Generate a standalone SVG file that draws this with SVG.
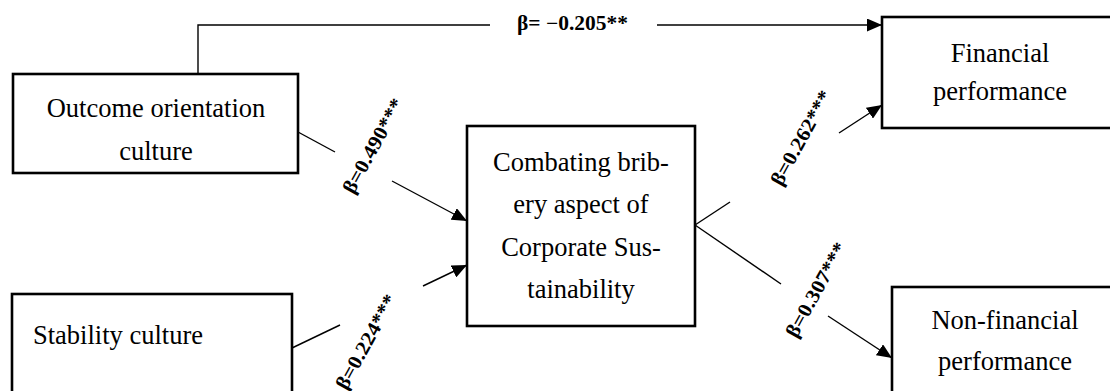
<svg xmlns="http://www.w3.org/2000/svg" width="1110" height="391" viewBox="0 0 1110 391">
<defs>
<style>
.box{fill:#fff;stroke:#000;stroke-width:2.6}
.t{font-family:"Liberation Serif","Times New Roman",serif;font-size:26.5px;fill:#000}
.c{text-anchor:middle}
.lbl{font-family:"Liberation Serif","Times New Roman",serif;font-size:20px;font-weight:bold;fill:#000;text-anchor:middle}
.ln{fill:none;stroke:#000;stroke-width:1.4}
</style>
<marker id="ah" markerUnits="userSpaceOnUse" markerWidth="15" markerHeight="13" refX="15" refY="6.5" orient="auto">
<path d="M0,0 L15,6.5 L0,13 z" fill="#000"/>
</marker>
</defs>
<rect width="1110" height="391" fill="#fff"/>
<g id="connectors">
<polyline class="ln" points="198,73 198,25 490,25"/>
<line class="ln" x1="657" y1="25" x2="882" y2="25" marker-end="url(#ah)"/>
<line class="ln" x1="298" y1="132" x2="335" y2="152"/>
<line class="ln" x1="392" y1="181" x2="467" y2="221" marker-end="url(#ah)"/>
<line class="ln" x1="292" y1="348" x2="340" y2="325"/>
<line class="ln" x1="423" y1="286" x2="467" y2="265" marker-end="url(#ah)"/>
<line class="ln" x1="695" y1="225" x2="730" y2="202"/>
<line class="ln" x1="839" y1="133" x2="882" y2="105" marker-end="url(#ah)"/>
<line class="ln" x1="695" y1="225" x2="781" y2="284"/>
<line class="ln" x1="828" y1="316" x2="892" y2="358" marker-end="url(#ah)"/>
<text class="lbl" x="572.5" y="30" textLength="111" lengthAdjust="spacingAndGlyphs">β= −0.205**</text>
<text class="lbl" transform="translate(379,149) rotate(-61)" textLength="105" lengthAdjust="spacingAndGlyphs">β=0.490***</text>
<text class="lbl" transform="translate(372,345) rotate(-61)" textLength="105" lengthAdjust="spacingAndGlyphs">β=0.224***</text>
<text class="lbl" transform="translate(807,141) rotate(-61)" textLength="105" lengthAdjust="spacingAndGlyphs">β=0.262***</text>
<text class="lbl" transform="translate(822,293) rotate(-61)" textLength="105" lengthAdjust="spacingAndGlyphs">β=0.307***</text>
</g>
<g id="outcome">
<rect class="box" x="13" y="74" width="285" height="99"/>
<text class="t c" x="156" y="117">Outcome orientation</text>
<text class="t c" x="156" y="160">culture</text>
</g>
<g id="stability">
<rect class="box" x="12" y="294" width="280" height="100"/>
<text class="t" x="33" y="344">Stability culture</text>
</g>
<g id="combating">
<rect class="box" x="467" y="126" width="228" height="200"/>
<text class="t c" x="581" y="171">Combating brib-</text>
<text class="t c" x="581" y="213">ery aspect of</text>
<text class="t c" x="581" y="256">Corporate Sus-</text>
<text class="t c" x="581" y="298">tainability</text>
</g>
<g id="financial">
<rect class="box" x="882" y="17" width="235" height="111"/>
<text class="t c" x="1000" y="62">Financial</text>
<text class="t c" x="1000" y="100">performance</text>
</g>
<g id="nonfinancial">
<rect class="box" x="892" y="287" width="225" height="110"/>
<text class="t c" x="1005" y="329">Non-financial</text>
<text class="t c" x="1005" y="370">performance</text>
</g>
</svg>
